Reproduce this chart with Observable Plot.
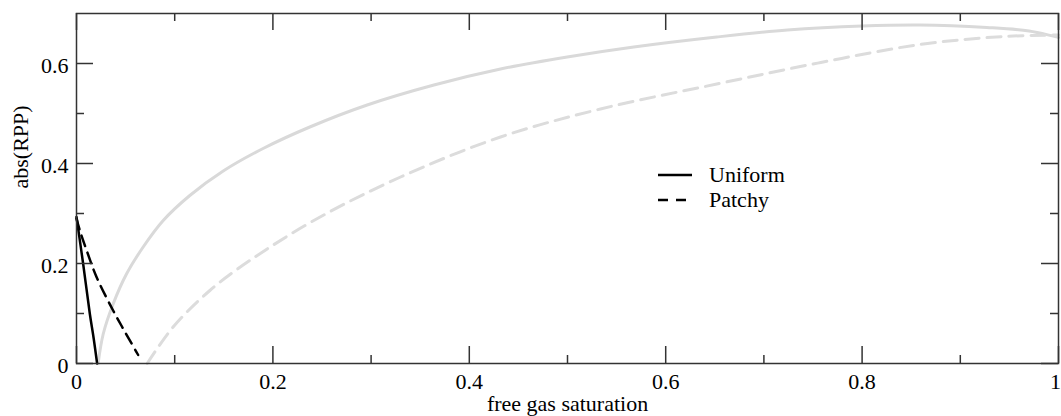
<!DOCTYPE html>
<html>
<head>
<meta charset="utf-8">
<script src="https://cdn.jsdelivr.net/npm/d3@7"></script>
<script src="https://cdn.jsdelivr.net/npm/@observablehq/plot@0.6"></script>
<style>
  body { margin: 0; background: #fff; }
  #wrap { position: relative; width: 1061px; height: 416px; font-family: "Liberation Serif", "Times New Roman", serif; }
  #legend { position: absolute; left: 658px; top: 162px; font-size: 22px; line-height: 25px; color: #000; }
  #legend .row { display: flex; align-items: flex-start; height: 25px; }
  #legend svg { display: block; }
  #legend span { margin-left: 17px; }
</style>
</head>
<body>
<div id="wrap"><div id="legend"></div></div>
<script>
// ---- data ----
const uniformX = [0, 0.0068, 0.0136, 0.0175, 0.021];
const uniformY = [0.293, 0.199, 0.099, 0.05, 0];

const patchyX = [0, 0.0034, 0.01, 0.0204, 0.0373, 0.05, 0.0628];
const patchyY = [0.29, 0.266, 0.228, 0.173, 0.106, 0.061, 0.017];

const uniformGrayX = [0.022, 0.0272, 0.0373, 0.0509, 0.0679, 0.0883, 0.1154, 0.1494, 0.19, 0.2376, 0.296, 0.364, 0.4318, 0.4997, 0.5675, 0.652, 0.724, 0.80, 0.859, 0.927, 0.97, 1];
const uniformGrayY = [0, 0.059, 0.119, 0.179, 0.233, 0.286, 0.336, 0.385, 0.43, 0.473, 0.517, 0.557, 0.589, 0.613, 0.633, 0.653, 0.667, 0.675, 0.677, 0.672, 0.665, 0.652];

const patchyGrayX = [0.072, 0.0984, 0.1358, 0.1765, 0.2444, 0.33, 0.4318, 0.5336, 0.652, 0.758, 0.859, 0.944, 1];
const patchyGrayY = [0, 0.073, 0.146, 0.206, 0.289, 0.373, 0.453, 0.509, 0.559, 0.602, 0.638, 0.654, 0.657];

const xMajorTicks = [0, 0.2, 0.4, 0.6, 0.8, 1];
const xMinorTicks = [0.1, 0.3, 0.5, 0.7, 0.9];
const yMajorTicks = [0, 0.2, 0.4, 0.6];
const yMinorTicks = [0.1, 0.3, 0.5];

const seriesNames = ["Uniform", "Patchy"];
const xLabel = "free gas saturation";
const yLabel = "abs(RPP)";

// ---- layout ----
const W = 1061, H = 416, mL = 76, mR = 3, mT = 13, mB = 53;
const pw = W - mL - mR, ph = H - mT - mB;
const majorLen = 17, minorLen = 8;
const axisColor = "#333";
const font = "Liberation Serif";

const toRows = (xs, ys) => xs.map((x, i) => ({x, y: ys[i]}));
const tickStyle = {stroke: axisColor, strokeWidth: 1.5};

const chart = Plot.plot({
  width: W, height: H,
  marginLeft: mL, marginRight: mR, marginTop: mT, marginBottom: mB,
  style: {fontFamily: font, fontSize: "22px", color: "#000", background: "#fff"},
  x: {domain: [0, 1]},
  y: {domain: [0, 0.7]},
  marks: [
    Plot.line(toRows(uniformGrayX, uniformGrayY), {x: "x", y: "y", stroke: "#d9d9d9", strokeWidth: 3, curve: "catmull-rom"}),
    Plot.line(toRows(patchyGrayX, patchyGrayY), {x: "x", y: "y", stroke: "#dcdcdc", strokeWidth: 3, strokeDasharray: "14,8", curve: "catmull-rom"}),
    Plot.line(toRows(uniformX, uniformY), {x: "x", y: "y", stroke: "#000", strokeWidth: 2.5, curve: "catmull-rom"}),
    Plot.line(toRows(patchyX, patchyY), {x: "x", y: "y", stroke: "#000", strokeWidth: 2.5, strokeDasharray: "11,7", curve: "catmull-rom"}),
    // inward ticks on all four sides
    Plot.tickX(xMajorTicks, {x: d => d, insetTop: ph - majorLen, ...tickStyle}),
    Plot.tickX(xMajorTicks, {x: d => d, insetBottom: ph - majorLen, ...tickStyle}),
    Plot.tickX(xMinorTicks, {x: d => d, insetTop: ph - minorLen, ...tickStyle}),
    Plot.tickX(xMinorTicks, {x: d => d, insetBottom: ph - minorLen, ...tickStyle}),
    Plot.tickY(yMajorTicks, {y: d => d, insetRight: pw - majorLen, ...tickStyle}),
    Plot.tickY(yMajorTicks, {y: d => d, insetLeft: pw - majorLen, ...tickStyle}),
    Plot.tickY(yMinorTicks, {y: d => d, insetRight: pw - minorLen, ...tickStyle}),
    Plot.tickY(yMinorTicks, {y: d => d, insetLeft: pw - minorLen, ...tickStyle}),
    Plot.frame({stroke: axisColor, strokeWidth: 1.5}),
    Plot.axisX({ticks: xMajorTicks.filter(d => d < 1), tickSize: 0, tickPadding: 10, tickFormat: d => `${d}`, fontSize: 22, label: null}),
    Plot.axisX({ticks: xMajorTicks.filter(d => d >= 1), tickSize: 0, tickPadding: 10, dx: -3, tickFormat: d => `${d}`, fontSize: 22, label: null}),
    Plot.axisY({ticks: yMajorTicks, tickSize: 0, tickPadding: 8, dy: 2, tickFormat: d => `${d}`, fontSize: 22, label: null}),
    Plot.text([xLabel], {text: d => d, frameAnchor: "bottom", dy: 47, fontSize: 22, fill: "#000"}),
    Plot.text([yLabel], {text: d => d, frameAnchor: "left", dx: -56, rotate: -90, fontSize: 22, fill: "#000"})
  ]
});

const wrap = document.getElementById("wrap");
wrap.insertBefore(chart, wrap.firstChild);

// ---- legend (HTML overlay) ----
const legendStyles = [
  {len: 34, dash: null},
  {len: 29, dash: "10,8"}
];
const legend = document.getElementById("legend");
seriesNames.forEach((name, i) => {
  const row = document.createElement("div");
  row.className = "row";
  const st = legendStyles[i];
  row.innerHTML = `<svg width="34" height="25"><line x1="0" x2="${st.len}" y1="13" y2="13" stroke="#000" stroke-width="2.5"${st.dash ? ` stroke-dasharray="${st.dash}"` : ""}/></svg><span>${name}</span>`;
  legend.appendChild(row);
});
</script>
</body>
</html>
